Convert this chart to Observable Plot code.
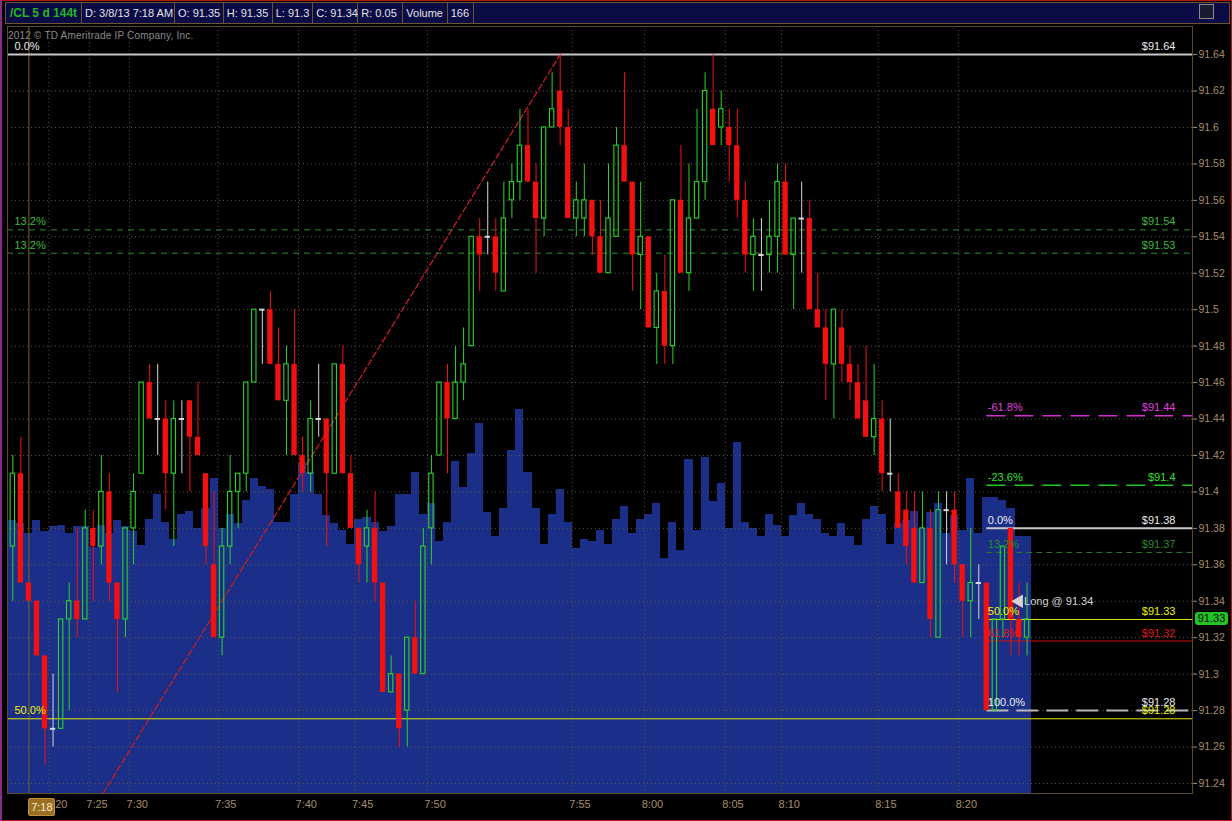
<!DOCTYPE html>
<html><head><meta charset="utf-8">
<script src="https://cdn.jsdelivr.net/npm/d3@7"></script>
<script src="https://cdn.jsdelivr.net/npm/@observablehq/plot@0.6"></script>
<style>
body{margin:0;background:#000;}
#wrap{position:relative;width:1232px;height:821px;background:#000;overflow:hidden;font-family:"Liberation Sans",Arial,sans-serif;}
#wrap svg{position:absolute;left:0;top:0;}
.hdr{position:absolute;left:5px;top:2px;width:1223px;height:20px;background:#0b0b46;border:1px solid #6b5533;display:flex;font-size:11px;color:#e4e4e4;}
.hdr div{border-right:1px solid #6b5533;line-height:20px;padding:0 3px;white-space:nowrap;box-sizing:border-box;}
.sym{color:#22b822;font-weight:bold;text-align:center;font-size:12px;}
.btn{position:absolute;left:1199px;top:4px;width:15px;height:15px;border:1px solid #8a8a8a;background:#1a1a30;box-sizing:border-box;}
.copy{position:absolute;left:8px;top:30px;font-size:10px;color:#8c8c8c;letter-spacing:0.2px;}
.tag{position:absolute;background:#22c422;color:#000;font-size:11px;border-radius:3px;text-align:center;line-height:13px;height:13px;width:33px;}
.tbox{position:absolute;background:#9a7020;color:#f4ecd0;font-size:11px;border-radius:2px;border:1px solid #c09040;text-align:center;line-height:16px;height:16px;width:25px;}
.bd{position:absolute;}
</style></head><body><div id="wrap">
<div class="hdr">
  <div class="sym" style="width:76px">/CL 5 d 144t</div>
  <div style="width:93px">D: 3/8/13 7:18 AM</div>
  <div style="width:48.7px">O: 91.35</div>
  <div style="width:49px">H: 91.35</div>
  <div style="width:40.6px">L: 91.3</div>
  <div style="width:45px">C: 91.34</div>
  <div style="width:45px">R: 0.05</div>
  <div style="width:44.4px">Volume</div>
  <div style="width:26px">166</div>
</div>
<div class="btn"></div>
<div class="copy">2012 © TD Ameritrade IP Company, Inc.</div>
</div>
<script>
// ---------- data ----------
const candleOpen = [91.37,91.41,91.35,91.34,91.31,91.27,91.27,91.33,91.34,91.33,
91.38,91.37,91.40,91.35,91.33,91.38,91.41,91.46,91.44,91.44,
91.41,91.44,91.45,91.43,91.41,91.36,91.32,91.37,91.40,91.41,
91.46,91.50,91.50,91.47,91.45,91.47,91.42,91.41,91.44,91.44,
91.41,91.47,91.41,91.38,91.37,91.38,91.35,91.29,91.30,91.28,
91.32,91.30,91.38,91.42,91.46,91.44,91.46,91.48,91.54,91.54,
91.54,91.51,91.56,91.57,91.59,91.57,91.55,91.60,91.62,91.60,
91.55,91.55,91.56,91.54,91.52,91.54,91.59,91.57,91.53,91.54,
91.49,91.51,91.48,91.56,91.52,91.55,91.57,91.61,91.60,91.60,
91.59,91.56,91.53,91.53,91.53,91.54,91.57,91.53,91.55,91.55,
91.50,91.49,91.47,91.49,91.47,91.46,91.45,91.43,91.44,91.41,
91.40,91.39,91.38,91.35,91.38,91.32,91.39,91.39,91.36,91.34,
91.35,91.35,91.28,91.33,91.38,91.33,91.32];
const candleHigh = [91.42,91.43,91.35,91.34,91.31,91.30,91.33,91.35,91.38,91.39,
91.39,91.42,91.41,91.35,91.38,91.41,91.46,91.47,91.47,91.45,
91.45,91.45,91.45,91.46,91.41,91.40,91.38,91.42,91.41,91.46,
91.50,91.50,91.51,91.49,91.48,91.50,91.43,91.45,91.47,91.44,
91.47,91.48,91.42,91.38,91.39,91.40,91.35,91.31,91.30,91.32,
91.34,91.38,91.42,91.46,91.47,91.48,91.49,91.54,91.55,91.57,
91.55,91.57,91.58,91.61,91.61,91.58,91.60,91.63,91.64,91.61,
91.57,91.58,91.56,91.56,91.58,91.60,91.63,91.57,91.57,91.54,
91.52,91.53,91.56,91.59,91.58,91.61,91.63,91.64,91.62,91.61,
91.61,91.57,91.55,91.55,91.56,91.58,91.58,91.55,91.57,91.56,
91.52,91.50,91.50,91.50,91.48,91.47,91.48,91.47,91.45,91.44,
91.41,91.40,91.40,91.40,91.39,91.40,91.40,91.40,91.36,91.38,
91.36,91.35,91.33,91.37,91.38,91.35,91.35];
const candleLow = [91.34,91.35,91.34,91.31,91.25,91.26,91.27,91.28,91.32,91.33,
91.34,91.36,91.34,91.29,91.32,91.36,91.41,91.44,91.42,91.39,
91.37,91.41,91.40,91.42,91.36,91.32,91.31,91.36,91.38,91.40,
91.46,91.47,91.47,91.45,91.42,91.42,91.40,91.40,91.43,91.37,
91.41,91.41,91.38,91.35,91.35,91.34,91.29,91.29,91.26,91.26,
91.30,91.30,91.36,91.42,91.41,91.44,91.45,91.48,91.51,91.53,
91.51,91.51,91.55,91.56,91.57,91.52,91.54,91.60,91.59,91.55,
91.54,91.54,91.53,91.52,91.52,91.54,91.57,91.51,91.50,91.49,
91.47,91.47,91.47,91.52,91.51,91.55,91.56,91.59,91.59,91.57,
91.55,91.52,91.51,91.51,91.52,91.52,91.53,91.50,91.52,91.50,
91.49,91.45,91.44,91.46,91.45,91.44,91.43,91.42,91.40,91.40,
91.38,91.36,91.35,91.35,91.32,91.32,91.36,91.35,91.32,91.32,
91.33,91.28,91.28,91.32,91.31,91.31,91.31];
const candleClose = [91.41,91.35,91.34,91.31,91.27,91.27,91.33,91.34,91.33,91.38,
91.37,91.40,91.35,91.33,91.38,91.40,91.46,91.44,91.44,91.41,
91.44,91.44,91.43,91.42,91.37,91.32,91.37,91.40,91.41,91.46,
91.50,91.50,91.47,91.45,91.47,91.42,91.41,91.44,91.44,91.41,
91.47,91.41,91.38,91.36,91.38,91.35,91.29,91.30,91.27,91.32,
91.30,91.37,91.41,91.46,91.44,91.46,91.47,91.54,91.53,91.54,
91.52,91.55,91.57,91.59,91.57,91.55,91.60,91.61,91.60,91.55,
91.56,91.56,91.54,91.52,91.55,91.59,91.57,91.53,91.54,91.49,
91.51,91.48,91.56,91.52,91.55,91.57,91.62,91.59,91.61,91.59,
91.56,91.53,91.54,91.53,91.54,91.57,91.53,91.55,91.55,91.50,
91.49,91.47,91.50,91.47,91.46,91.44,91.43,91.44,91.41,91.41,
91.38,91.37,91.35,91.38,91.33,91.39,91.39,91.36,91.34,91.35,
91.35,91.28,91.33,91.37,91.33,91.32,91.33];
const candleVolume = [174,172,166,174,167,170,171,166,170,170,
157,171,166,174,170,167,158,175,191,173,
162,178,180,169,182,201,169,178,172,187,
201,196,194,173,173,191,211,205,191,177,
172,168,159,175,176,173,167,170,191,191,
205,178,185,161,173,212,195,217,236,179,
164,182,219,245,205,182,159,178,194,173,
156,162,161,168,159,175,183,166,175,178,
185,150,173,155,213,168,214,186,198,169,
224,173,169,164,178,171,164,177,185,178,
175,166,164,172,164,158,175,183,178,159,
172,174,180,169,179,185,166,177,168,201,
166,189,189,187,182,164,164];

const timeLabels = ["7:20","7:25","7:30","7:35","7:40","7:45","7:50","7:55","8:00","8:05","8:10","8:15","8:20"];
const timeTickCandle = [5,10,15,26,36,43,52,70,79,89,96,108,118];
const priceTicks = [91.24,91.26,91.28,91.30,91.32,91.34,91.36,91.38,91.40,91.42,91.44,91.46,91.48,91.50,91.52,91.54,91.56,91.58,91.60,91.62,91.64];

const fibSide    = ["left","left","left","left","right","right","right","right","right","right","right"];
const fibPercent = ["0.0%","13.2%","13.2%","50.0%","-61.8%","-23.6%","0.0%","13.2%","50.0%","61.8%","100.0%"];
const fibPrice   = [91.64,91.5438,91.531,91.2755,91.4418,91.4036,91.38,91.3668,91.33,91.3182,91.28];
const fibRightAnchorCandle = 121;

const trendCandle = [11.2, 68];
const trendPrice  = [91.2345, 91.64];

const cursorCandle = 2;
const cursorLabel = "7:18";
const longCandle = 125, longPrice = 91.34, longText = "Long @ 91.34";

// ---------- styles ----------
const fibStyle = {
  "left 0.0%":    {line:"#c8c8c8", text:"#ececec", w:2,   dash:null},
  "left 13.2%":   {line:"#2a8c2a", text:"#3cb83c", w:1,   dash:"6,5"},
  "left 50.0%":   {line:"#e6e600", text:"#f2f200", w:1,   dash:null},
  "right -61.8%": {line:"#d22cd2", text:"#e040e0", w:1.5, dash:"19,9"},
  "right -23.6%": {line:"#22c822", text:"#30e030", w:1.5, dash:"19,9"},
  "right 0.0%":   {line:"#c8c8c8", text:"#ececec", w:2,   dash:null},
  "right 13.2%":  {line:"#2a7e2a", text:"#2a8a2a", w:1,   dash:"6,4"},
  "right 50.0%":  {line:"#e6e600", text:"#f2f200", w:1,   dash:null},
  "right 61.8%":  {line:"#d01010", text:"#e01818", w:1,   dash:null},
  "right 100.0%": {line:"#b8b8b8", text:"#ececec", w:2,   dash:"22,8"}
};
const UP = "#2ad42a", DOWN = "#f51010", DOJI = "#d8d8d8";
const GRID = "#5e5545", AXIS = "#a88e6a";
const VOL = "#1b2f88";

// ---------- build ----------
const W = 1232, H = 821;
const M = {marginLeft: 7, marginRight: 40, marginTop: 26, marginBottom: 28};
const xDomain = [-0.66, 146.55];
const yDomain = [91.2345, 91.6554];
const candles = candleOpen.map((o, i) => ({
  i, open: o, high: candleHigh[i], low: candleLow[i], close: candleClose[i], vol: candleVolume[i],
  top: Math.max(o, candleClose[i]), bot: Math.min(o, candleClose[i])
}));
const up = candles.filter(d => d.close > d.open);
const down = candles.filter(d => d.close < d.open);
const doji = candles.filter(d => d.close === d.open);

const fibs = fibPercent.map((p, k) => ({
  pct: p, price: fibPrice[k], side: fibSide[k],
  x1: fibSide[k] === "left" ? xDomain[0] : fibRightAnchorCandle,
  key: fibSide[k] + " " + p
}));
const trend = trendCandle.map((c, k) => ({i: c, p: trendPrice[k]}));
const timeTicks = timeTickCandle.map((c, k) => ({i: c - 0.5, label: timeLabels[k]}));

const wrap = document.getElementById("wrap");
const font = "'Liberation Sans', Arial, sans-serif";

// volume layer (behind)
const volPlot = Plot.plot({
  width: W, height: H, ...M,
  style: {background: "transparent", fontFamily: font},
  x: {domain: xDomain, axis: null},
  y: {domain: [0, 489.2], axis: null},
  marks: [
    Plot.rectY(candles, {x1: d => d.i - 0.5, x2: d => d.i + 0.5, y: "vol", fill: VOL, shapeRendering: "crispEdges"})
  ]
});
wrap.appendChild(volPlot);

// price layer
const fibMarks = fibs.map(f => {
  const s = fibStyle[f.key];
  return Plot.ruleY([f], {y: "price", x1: "x1", x2: xDomain[1], stroke: s.line, strokeWidth: s.w,
    strokeDasharray: s.dash || undefined});
});
const fibText = fibs.map(f => {
  const s = fibStyle[f.key];
  return [
    Plot.text([f], {x: "x1", y: "price", text: "pct", fill: s.text, textAnchor: "start",
      dx: f.side === "left" ? 7 : 1, dy: -8, fontSize: 11}),
    Plot.text([f], {x: xDomain[1], y: "price", text: d => "$" + String(+d.price.toFixed(2)), fill: s.text,
      textAnchor: "end", dx: -17, dy: -8, fontSize: 11})
  ];
});

const pricePlot = Plot.plot({
  width: W, height: H, ...M,
  style: {background: "transparent", fontFamily: font, overflow: "visible"},
  x: {domain: xDomain, axis: null},
  y: {domain: yDomain, axis: null},
  marks: [
    Plot.ruleY(priceTicks, {stroke: GRID, strokeDasharray: "1,3"}),
    Plot.ruleX(timeTicks, {x: "i", stroke: GRID, strokeDasharray: "1,3"}),
    Plot.ruleX([cursorCandle], {stroke: "#7e6228", strokeWidth: 1}),
    Plot.line(trend, {x: "i", y: "p", stroke: "#c81e1e", strokeWidth: 1.3, strokeDasharray: "6,3", clip: true}),
    ...fibMarks,
    // wicks
    Plot.ruleX(up, {x: "i", y1: "high", y2: "top", stroke: UP}),
    Plot.ruleX(up, {x: "i", y1: "bot", y2: "low", stroke: UP}),
    Plot.ruleX(down, {x: "i", y1: "high", y2: "low", stroke: DOWN}),
    Plot.ruleX(doji, {x: "i", y1: "high", y2: "low", stroke: DOJI}),
    // bodies
    Plot.rect(down, {x1: d => d.i - 0.33, x2: d => d.i + 0.33, y1: "open", y2: "close", fill: DOWN}),
    Plot.rect(up, {x1: d => d.i - 0.27, x2: d => d.i + 0.27, y1: "open", y2: "close", stroke: UP, strokeWidth: 1.1, fill: "none"}),
    Plot.ruleY(doji, {y: "open", x1: d => d.i - 0.33, x2: d => d.i + 0.33, stroke: DOJI, strokeWidth: 2}),
    ...fibText.flat(),
    Plot.dot([{i: longCandle, p: longPrice}], {x: "i", y: "p", symbol: "triangle", rotate: -90, r: 5, fill: "#d4d4d4"}),
    Plot.text([{i: longCandle, p: longPrice, t: longText}], {x: "i", y: "p", text: "t", fill: "#d4d4d4", textAnchor: "start", dx: 5, fontSize: 11}),
    Plot.frame({stroke: "#5a4a30"}),
    Plot.axisY(priceTicks, {anchor: "right", tickSize: 4, tickPadding: 2, color: AXIS, fontSize: 10.5,
      tickFormat: d => String(+d.toFixed(2))}),
    Plot.text(timeTicks, {x: "i", frameAnchor: "bottom", text: "label", textAnchor: "start", dx: -3, dy: 14, fill: AXIS, fontSize: 11})
  ]
});
wrap.appendChild(pricePlot);

// cursor time label and last price tag positioned from the plot's scales
const xs = pricePlot.scale("x"), ys = pricePlot.scale("y");
const tb = document.createElement("div");
tb.className = "tbox"; tb.textContent = cursorLabel;
tb.style.left = (xs.apply(cursorCandle)) + "px"; tb.style.top = "798px";
wrap.appendChild(tb);
const last = candles[candles.length - 1];
const tag = document.createElement("div");
tag.className = "tag"; tag.textContent = String(+last.close.toFixed(2));
tag.style.left = (W - M.marginRight + 3) + "px"; tag.style.top = (ys.apply(last.close) - 7) + "px";
wrap.appendChild(tag);

// outer borders
[["0px","0px","1232px","1px","#b01818"],["0px","820px","1232px","1px","#b01818"],["1231px","0px","1px","821px","#b01818"],["0px","0px","2px","821px","#8a2a8a"]]
.forEach(([l,t,w,h,c]) => { const b = document.createElement("div"); b.className = "bd";
  Object.assign(b.style, {left:l, top:t, width:w, height:h, background:c}); wrap.appendChild(b); });
</script>
</body></html>
